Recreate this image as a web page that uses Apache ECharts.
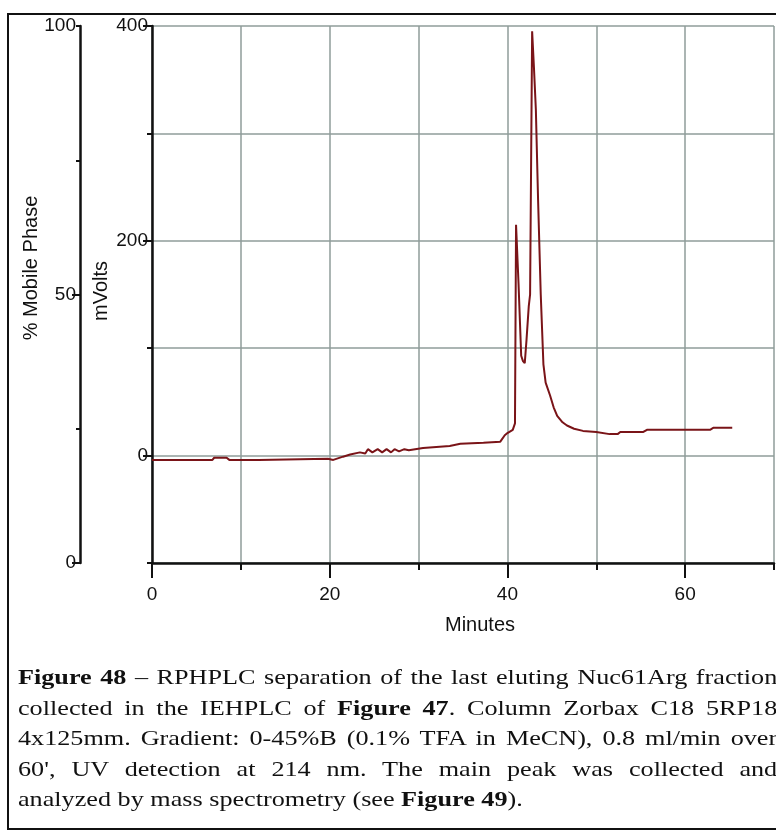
<!DOCTYPE html>
<html>
<head>
<meta charset="utf-8">
<script src="https://cdn.jsdelivr.net/npm/echarts@6/dist/echarts.min.js"></script>
<style>
  html, body { margin: 0; padding: 0; background: #fff; width: 776px; height: 832px; overflow: hidden; }
  #chart { position: absolute; left: 0; top: 0; width: 776px; height: 832px; }
  #frame { position: absolute; left: 7px; top: 13px; width: 830px; height: 817px;
           border: 2.5px solid #111; box-sizing: border-box; pointer-events: none; }
  #caption { position: absolute; left: 18px; top: 662px; width: 638px;
             transform: scaleX(1.19); transform-origin: 0 0;
             font-family: "Liberation Serif", "Times New Roman", serif;
             font-size: 22px; line-height: 30.5px; color: #111; }
  #caption .j { text-align: justify; text-align-last: justify; }
  #caption b { font-weight: bold; }
</style>
</head>
<body>
<div id="chart"></div>
<div id="frame"></div>
<div id="caption">
  <div class="j"><b>Figure 48</b> – RPHPLC separation of the last eluting Nuc61Arg fraction</div>
  <div class="j">collected in the IEHPLC of <b>Figure 47</b>. Column Zorbax C18 5RP18</div>
  <div class="j">4x125mm. Gradient: 0-45%B (0.1% TFA in MeCN), 0.8 ml/min over</div>
  <div class="j">60', UV detection at 214 nm. The main peak was collected and</div>
  <div>analyzed by mass spectrometry (see <b>Figure 49</b>).</div>
</div>
<script>
// Retention time (minutes) and detector signal (mV) of the chromatogram trace
const timeMin = [
  0, 6.8, 7.0, 8.4, 8.7, 12, 19.8, 20.4, 21.5, 22.3, 23.4, 24.0, 24.3, 24.8,
  25.4, 25.9, 26.4, 26.9, 27.3, 27.8, 28.4, 28.9, 30.5, 32, 33.5, 34.7, 37.3,
  39.2, 39.7, 40.0, 40.6, 40.85, 40.97, 41.25, 41.55, 41.75, 41.95, 42.15,
  42.4, 42.55, 42.78, 42.98, 43.2, 43.45, 43.75, 44.05, 44.3, 44.8, 45.2,
  45.6, 46.2, 46.7, 47.5, 48.5, 50, 51.5, 52.4, 52.7, 55.3, 55.7, 62.8, 63.2, 65.3
];
const signalMv = [
  -4, -4, -2, -2, -4, -4, -3, -4, -1, 1, 3, 2, 6, 3,
  6, 3, 6, 3, 6, 4, 6, 5, 7, 8, 9, 11, 12,
  13, 19, 21, 24, 30, 215, 160, 93, 88, 86, 108,
  139, 150, 395, 362, 322, 238, 150, 85, 68, 56, 45,
  37, 31, 28, 25, 23, 22, 20, 20, 22, 22, 24, 24, 26, 26
];

// Labelled tick values on each axis
const minuteTicks = [0, 20, 40, 60];
const mvTicks = [0, 200, 400];
const phaseTicks = [0, 50, 100];

const ink = '#111';
const gridColor = '#8f9c9a';
const sans = '"Liberation Sans", Arial, sans-serif';

const chart = echarts.init(document.getElementById('chart'), null, { renderer: 'canvas' });

const axisLine = { show: true, onZero: false, lineStyle: { color: ink, width: 2.5 } };
const tickStyle = { color: ink, width: 2 };
const labelStyle = { fontSize: 19, color: ink, fontFamily: sans };

chart.setOption({
  animation: false,
  backgroundColor: '#fff',
  grid: { left: 152, top: 26, right: 2, bottom: 269, containLabel: false },
  xAxis: [
    { // minute scale: line, 10-min ticks and gridlines
      type: 'value', min: 0, max: 70, interval: 10, position: 'bottom',
      axisLine: axisLine,
      axisTick: { show: true, length: 7, lineStyle: tickStyle },
      axisLabel: { show: false },
      splitLine: { show: true, lineStyle: { color: gridColor, width: 1.5 } }
    },
    { // labelled 20-min ticks
      type: 'value', min: 0, max: 70, interval: 10, position: 'bottom',
      axisLine: { show: false, onZero: false },
      axisTick: { show: true, length: 15, customValues: minuteTicks, lineStyle: tickStyle },
      axisLabel: Object.assign({ show: true, customValues: minuteTicks, margin: 22 }, labelStyle),
      splitLine: { show: false }
    }
  ],
  yAxis: [
    { // mV scale with gridlines every 100 mV
      type: 'value', min: -100, max: 400, interval: 100, position: 'left', offset: 0,
      axisLine: axisLine,
      axisTick: { show: true, length: 5, lineStyle: tickStyle },
      axisLabel: { show: false },
      splitLine: { show: true, lineStyle: { color: gridColor, width: 1.5 } }
    },
    { // labelled mV ticks
      type: 'value', min: -100, max: 400, interval: 100, position: 'left', offset: 0,
      axisLine: { show: false, onZero: false },
      axisTick: { show: true, length: 9, customValues: mvTicks, lineStyle: tickStyle },
      axisLabel: Object.assign({ show: true, customValues: mvTicks, margin: 4 }, labelStyle),
      splitLine: { show: false }
    },
    { // % mobile phase scale
      type: 'value', min: 0, max: 100, interval: 25, position: 'left', offset: 72,
      axisLine: axisLine,
      axisTick: { show: true, length: 4, lineStyle: tickStyle },
      axisLabel: { show: false },
      splitLine: { show: false }
    },
    { // labelled % ticks
      type: 'value', min: 0, max: 100, interval: 25, position: 'left', offset: 72,
      axisLine: { show: false, onZero: false },
      axisTick: { show: true, length: 8, customValues: [0, 50], lineStyle: tickStyle },
      axisLabel: Object.assign({ show: true, customValues: phaseTicks, margin: 4 }, labelStyle),
      splitLine: { show: false }
    }
  ],
  graphic: [
    { type: 'text', x: 480, y: 625,
      style: { text: 'Minutes', font: '20px ' + sans, fill: ink, align: 'center', verticalAlign: 'middle' } },
    { type: 'text', x: 31, y: 268, rotation: Math.PI / 2,
      style: { text: '% Mobile Phase', font: '20px ' + sans, fill: ink, align: 'center', verticalAlign: 'middle' } },
    { type: 'text', x: 101, y: 291, rotation: Math.PI / 2,
      style: { text: 'mVolts', font: '20px ' + sans, fill: ink, align: 'center', verticalAlign: 'middle' } }
  ],
  series: [
    {
      type: 'line', xAxisIndex: 0, yAxisIndex: 0,
      data: timeMin.map((t, i) => [t, signalMv[i]]),
      showSymbol: false, symbol: 'none', smooth: false,
      lineStyle: { color: '#7a1418', width: 2 },
      z: 5
    }
  ]
});
</script>
</body>
</html>
